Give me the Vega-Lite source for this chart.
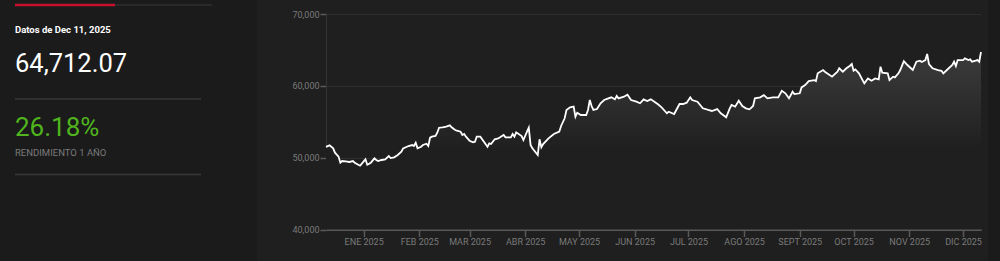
{
  "$schema": "https://vega.github.io/schema/vega-lite/v6.json",
  "background": "#1b1b1b",
  "padding": {"left": 0, "top": 0, "right": 12, "bottom": 0},
  "config": {"font": "Roboto", "view": {"stroke": null}},
  "spacing": 0,
  "bounds": "flush",
  "datasets": {
    "panel": [
      {"elemento": "fecha", "texto": "Datos de Dec 11, 2025"},
      {"elemento": "valor", "texto": "64,712.07"},
      {"elemento": "rendimiento", "texto": "26.18%"},
      {"elemento": "etiqueta", "texto": "RENDIMIENTO 1 AÑO"}
    ],
    "deco": [{"tipo": "linea"}],
    "serie": [
      {"fecha": "2024-12-11", "valor": 51500},
      {"fecha": "2024-12-13", "valor": 51720},
      {"fecha": "2024-12-15", "valor": 51300},
      {"fecha": "2024-12-16", "valor": 50690},
      {"fecha": "2024-12-18", "valor": 50130},
      {"fecha": "2024-12-19", "valor": 49300},
      {"fecha": "2024-12-20", "valor": 49535},
      {"fecha": "2024-12-22", "valor": 49490},
      {"fecha": "2024-12-24", "valor": 49400},
      {"fecha": "2024-12-26", "valor": 49535},
      {"fecha": "2024-12-27", "valor": 49300},
      {"fecha": "2024-12-29", "valor": 49020},
      {"fecha": "2024-12-30", "valor": 48880},
      {"fecha": "2025-01-01", "valor": 49490},
      {"fecha": "2025-01-02", "valor": 49770},
      {"fecha": "2025-01-03", "valor": 49020},
      {"fecha": "2025-01-05", "valor": 49300},
      {"fecha": "2025-01-07", "valor": 49910},
      {"fecha": "2025-01-08", "valor": 49675},
      {"fecha": "2025-01-09", "valor": 49535},
      {"fecha": "2025-01-11", "valor": 49675},
      {"fecha": "2025-01-13", "valor": 49770},
      {"fecha": "2025-01-15", "valor": 50230},
      {"fecha": "2025-01-16", "valor": 49950},
      {"fecha": "2025-01-18", "valor": 50050},
      {"fecha": "2025-01-20", "valor": 50370},
      {"fecha": "2025-01-22", "valor": 50830},
      {"fecha": "2025-01-23", "valor": 51300},
      {"fecha": "2025-01-26", "valor": 51620},
      {"fecha": "2025-01-28", "valor": 51760},
      {"fecha": "2025-01-29", "valor": 51620},
      {"fecha": "2025-01-30", "valor": 52080},
      {"fecha": "2025-01-31", "valor": 51300},
      {"fecha": "2025-02-02", "valor": 51525},
      {"fecha": "2025-02-03", "valor": 51760},
      {"fecha": "2025-02-05", "valor": 51940},
      {"fecha": "2025-02-06", "valor": 51620},
      {"fecha": "2025-02-07", "valor": 52780},
      {"fecha": "2025-02-08", "valor": 52920},
      {"fecha": "2025-02-10", "valor": 53015},
      {"fecha": "2025-02-11", "valor": 53475},
      {"fecha": "2025-02-12", "valor": 54170},
      {"fecha": "2025-02-14", "valor": 54225},
      {"fecha": "2025-02-16", "valor": 54310},
      {"fecha": "2025-02-18", "valor": 54500},
      {"fecha": "2025-02-19", "valor": 54225},
      {"fecha": "2025-02-21", "valor": 53850},
      {"fecha": "2025-02-22", "valor": 53750},
      {"fecha": "2025-02-24", "valor": 53615},
      {"fecha": "2025-02-25", "valor": 53155},
      {"fecha": "2025-02-26", "valor": 53290},
      {"fecha": "2025-02-27", "valor": 52920},
      {"fecha": "2025-03-01", "valor": 52360},
      {"fecha": "2025-03-03", "valor": 52140},
      {"fecha": "2025-03-04", "valor": 52220},
      {"fecha": "2025-03-05", "valor": 52920},
      {"fecha": "2025-03-07", "valor": 52920},
      {"fecha": "2025-03-09", "valor": 52220},
      {"fecha": "2025-03-11", "valor": 51525},
      {"fecha": "2025-03-12", "valor": 52000},
      {"fecha": "2025-03-13", "valor": 51900},
      {"fecha": "2025-03-15", "valor": 52555},
      {"fecha": "2025-03-17", "valor": 52695},
      {"fecha": "2025-03-18", "valor": 52830},
      {"fecha": "2025-03-20", "valor": 53155},
      {"fecha": "2025-03-21", "valor": 52830},
      {"fecha": "2025-03-24", "valor": 52830},
      {"fecha": "2025-03-25", "valor": 53290},
      {"fecha": "2025-03-26", "valor": 52920},
      {"fecha": "2025-03-27", "valor": 53530},
      {"fecha": "2025-03-30", "valor": 53015},
      {"fecha": "2025-03-31", "valor": 52460},
      {"fecha": "2025-04-02", "valor": 53615},
      {"fecha": "2025-04-03", "valor": 54170},
      {"fecha": "2025-04-04", "valor": 51760},
      {"fecha": "2025-04-05", "valor": 51300},
      {"fecha": "2025-04-08", "valor": 50370},
      {"fecha": "2025-04-09", "valor": 52555},
      {"fecha": "2025-04-10", "valor": 51440},
      {"fecha": "2025-04-11", "valor": 51900},
      {"fecha": "2025-04-14", "valor": 52695},
      {"fecha": "2025-04-17", "valor": 53290},
      {"fecha": "2025-04-20", "valor": 53615},
      {"fecha": "2025-04-21", "valor": 54410},
      {"fecha": "2025-04-23", "valor": 55480},
      {"fecha": "2025-04-24", "valor": 56640},
      {"fecha": "2025-04-26", "valor": 57010},
      {"fecha": "2025-04-28", "valor": 57100},
      {"fecha": "2025-04-29", "valor": 55700},
      {"fecha": "2025-04-30", "valor": 56260},
      {"fecha": "2025-05-02", "valor": 55940},
      {"fecha": "2025-05-05", "valor": 55940},
      {"fecha": "2025-05-06", "valor": 56640},
      {"fecha": "2025-05-07", "valor": 58030},
      {"fecha": "2025-05-08", "valor": 57190},
      {"fecha": "2025-05-09", "valor": 56640},
      {"fecha": "2025-05-11", "valor": 56770},
      {"fecha": "2025-05-13", "valor": 57570},
      {"fecha": "2025-05-15", "valor": 58030},
      {"fecha": "2025-05-17", "valor": 58210},
      {"fecha": "2025-05-19", "valor": 58400},
      {"fecha": "2025-05-21", "valor": 58120},
      {"fecha": "2025-05-22", "valor": 58585},
      {"fecha": "2025-05-23", "valor": 58260},
      {"fecha": "2025-05-26", "valor": 58490},
      {"fecha": "2025-05-28", "valor": 58770},
      {"fecha": "2025-05-30", "valor": 58030},
      {"fecha": "2025-06-02", "valor": 57790},
      {"fecha": "2025-06-04", "valor": 57570},
      {"fecha": "2025-06-06", "valor": 58120},
      {"fecha": "2025-06-08", "valor": 57890},
      {"fecha": "2025-06-10", "valor": 58120},
      {"fecha": "2025-06-12", "valor": 57790},
      {"fecha": "2025-06-14", "valor": 57430},
      {"fecha": "2025-06-16", "valor": 57010},
      {"fecha": "2025-06-19", "valor": 56180},
      {"fecha": "2025-06-20", "valor": 56400},
      {"fecha": "2025-06-23", "valor": 56080},
      {"fecha": "2025-06-26", "valor": 57470},
      {"fecha": "2025-06-28", "valor": 57470},
      {"fecha": "2025-06-30", "valor": 57650},
      {"fecha": "2025-07-02", "valor": 58400},
      {"fecha": "2025-07-03", "valor": 58030},
      {"fecha": "2025-07-06", "valor": 57790},
      {"fecha": "2025-07-09", "valor": 56870},
      {"fecha": "2025-07-12", "valor": 56640},
      {"fecha": "2025-07-14", "valor": 56500},
      {"fecha": "2025-07-17", "valor": 56770},
      {"fecha": "2025-07-19", "valor": 56180},
      {"fecha": "2025-07-22", "valor": 55620},
      {"fecha": "2025-07-24", "valor": 56870},
      {"fecha": "2025-07-25", "valor": 57330},
      {"fecha": "2025-07-27", "valor": 57100},
      {"fecha": "2025-07-29", "valor": 57930},
      {"fecha": "2025-07-31", "valor": 57190},
      {"fecha": "2025-08-02", "valor": 56870},
      {"fecha": "2025-08-04", "valor": 56730},
      {"fecha": "2025-08-06", "valor": 57190},
      {"fecha": "2025-08-07", "valor": 58260},
      {"fecha": "2025-08-10", "valor": 58400},
      {"fecha": "2025-08-12", "valor": 58720},
      {"fecha": "2025-08-14", "valor": 58260},
      {"fecha": "2025-08-17", "valor": 58400},
      {"fecha": "2025-08-20", "valor": 58400},
      {"fecha": "2025-08-22", "valor": 59320},
      {"fecha": "2025-08-24", "valor": 58960},
      {"fecha": "2025-08-26", "valor": 58260},
      {"fecha": "2025-08-28", "valor": 59180},
      {"fecha": "2025-08-29", "valor": 58860},
      {"fecha": "2025-09-01", "valor": 58960},
      {"fecha": "2025-09-02", "valor": 59780},
      {"fecha": "2025-09-04", "valor": 60100},
      {"fecha": "2025-09-06", "valor": 60660},
      {"fecha": "2025-09-09", "valor": 60800},
      {"fecha": "2025-09-10", "valor": 60660},
      {"fecha": "2025-09-11", "valor": 61740},
      {"fecha": "2025-09-14", "valor": 62200},
      {"fecha": "2025-09-15", "valor": 61970},
      {"fecha": "2025-09-19", "valor": 61270},
      {"fecha": "2025-09-22", "valor": 61970},
      {"fecha": "2025-09-23", "valor": 62440},
      {"fecha": "2025-09-25", "valor": 61970},
      {"fecha": "2025-09-27", "valor": 62440},
      {"fecha": "2025-09-29", "valor": 62800},
      {"fecha": "2025-09-30", "valor": 63040},
      {"fecha": "2025-10-01", "valor": 62100},
      {"fecha": "2025-10-02", "valor": 62290},
      {"fecha": "2025-10-04", "valor": 61740},
      {"fecha": "2025-10-06", "valor": 60800},
      {"fecha": "2025-10-07", "valor": 60340},
      {"fecha": "2025-10-09", "valor": 61030},
      {"fecha": "2025-10-11", "valor": 60710},
      {"fecha": "2025-10-13", "valor": 61030},
      {"fecha": "2025-10-15", "valor": 60890},
      {"fecha": "2025-10-16", "valor": 62670},
      {"fecha": "2025-10-17", "valor": 61830},
      {"fecha": "2025-10-20", "valor": 61740},
      {"fecha": "2025-10-21", "valor": 60800},
      {"fecha": "2025-10-23", "valor": 61270},
      {"fecha": "2025-10-24", "valor": 61180},
      {"fecha": "2025-10-26", "valor": 61740},
      {"fecha": "2025-10-27", "valor": 62200},
      {"fecha": "2025-10-29", "valor": 63450},
      {"fecha": "2025-10-31", "valor": 62900},
      {"fecha": "2025-11-03", "valor": 62200},
      {"fecha": "2025-11-05", "valor": 63360},
      {"fecha": "2025-11-07", "valor": 63500},
      {"fecha": "2025-11-08", "valor": 63320},
      {"fecha": "2025-11-10", "valor": 63590},
      {"fecha": "2025-11-11", "valor": 64430},
      {"fecha": "2025-11-12", "valor": 63040},
      {"fecha": "2025-11-14", "valor": 62440},
      {"fecha": "2025-11-17", "valor": 62200},
      {"fecha": "2025-11-19", "valor": 62100},
      {"fecha": "2025-11-20", "valor": 61740},
      {"fecha": "2025-11-22", "valor": 62200},
      {"fecha": "2025-11-25", "valor": 62900},
      {"fecha": "2025-11-26", "valor": 63360},
      {"fecha": "2025-11-27", "valor": 62760},
      {"fecha": "2025-11-28", "valor": 63590},
      {"fecha": "2025-12-01", "valor": 63590},
      {"fecha": "2025-12-02", "valor": 63820},
      {"fecha": "2025-12-04", "valor": 63590},
      {"fecha": "2025-12-05", "valor": 63680},
      {"fecha": "2025-12-06", "valor": 63360},
      {"fecha": "2025-12-08", "valor": 63500},
      {"fecha": "2025-12-09", "valor": 63590},
      {"fecha": "2025-12-10", "valor": 63360},
      {"fecha": "2025-12-11", "valor": 64712.07}
    ]
  },
  "hconcat": [
    {
      "width": 257,
      "height": 261,
      "view": {"fill": "#1b1b1b", "stroke": null},
      "data": {"name": "panel"},
      "layer": [
        {
          "data": {"name": "deco"},
          "mark": {"type": "rule", "color": "#2a2a2a", "strokeWidth": 2},
          "encoding": {
            "x": {"datum": 15, "type": "quantitative", "scale": {"domain": [0, 257], "nice": false, "zero": false}, "axis": null},
            "x2": {"datum": 212},
            "y": {"datum": 5, "type": "quantitative", "scale": {"domain": [261, 0], "nice": false, "zero": false}, "axis": null}
          }
        },
        {
          "data": {"name": "deco"},
          "mark": {"type": "rule", "color": "#c8102e", "strokeWidth": 2.5},
          "encoding": {
            "x": {"datum": 15, "type": "quantitative"},
            "x2": {"datum": 115},
            "y": {"datum": 5, "type": "quantitative"}
          }
        },
        {
          "data": {"name": "deco"},
          "mark": {"type": "rule", "color": "#383838", "strokeWidth": 1.5},
          "encoding": {
            "x": {"datum": 15, "type": "quantitative"},
            "x2": {"datum": 201},
            "y": {"datum": 99, "type": "quantitative"}
          }
        },
        {
          "data": {"name": "deco"},
          "mark": {"type": "rule", "color": "#383838", "strokeWidth": 1.5},
          "encoding": {
            "x": {"datum": 15, "type": "quantitative"},
            "x2": {"datum": 201},
            "y": {"datum": 174.5, "type": "quantitative"}
          }
        },
        {
          "transform": [{"filter": "datum.elemento === 'fecha'"}],
          "mark": {"type": "text", "align": "left", "baseline": "alphabetic", "fontSize": 9.5, "fontWeight": "bold", "color": "#ffffff"},
          "encoding": {
            "x": {"datum": 15, "type": "quantitative"},
            "y": {"datum": 32.5, "type": "quantitative"},
            "text": {"field": "texto"}
          }
        },
        {
          "transform": [{"filter": "datum.elemento === 'valor'"}],
          "mark": {"type": "text", "align": "left", "baseline": "alphabetic", "fontSize": 25.5, "color": "#ffffff"},
          "encoding": {
            "x": {"datum": 15, "type": "quantitative"},
            "y": {"datum": 71.5, "type": "quantitative"},
            "text": {"field": "texto"}
          }
        },
        {
          "transform": [{"filter": "datum.elemento === 'rendimiento'"}],
          "mark": {"type": "text", "align": "left", "baseline": "alphabetic", "fontSize": 26, "color": "#50b41e"},
          "encoding": {
            "x": {"datum": 15, "type": "quantitative"},
            "y": {"datum": 136, "type": "quantitative"},
            "text": {"field": "texto"}
          }
        },
        {
          "transform": [{"filter": "datum.elemento === 'etiqueta'"}],
          "mark": {"type": "text", "align": "left", "baseline": "alphabetic", "fontSize": 9.5, "color": "#7a7a7a"},
          "encoding": {
            "x": {"datum": 15, "type": "quantitative"},
            "y": {"datum": 156, "type": "quantitative"},
            "text": {"field": "texto"}
          }
        }
      ]
    },
    {
      "width": 731,
      "height": 261,
      "view": {"fill": "#1f1f1f", "stroke": null},
      "data": {"name": "serie"},
      "encoding": {
        "x": {
          "field": "fecha",
          "type": "temporal",
          "scale": {
            "type": "utc",
            "domain": [
              {"year": 2024, "month": 12, "date": 11, "utc": true},
              {"year": 2025, "month": 12, "date": 11, "utc": true}
            ],
            "range": [69, 724],
            "nice": false
          },
          "axis": {
            "orient": "bottom",
            "offset": -31.5,
            "title": null,
            "grid": false,
            "values": [
              {"year": 2025, "month": 1, "date": 1, "utc": true},
              {"year": 2025, "month": 2, "date": 1, "utc": true},
              {"year": 2025, "month": 3, "date": 1, "utc": true},
              {"year": 2025, "month": 4, "date": 1, "utc": true},
              {"year": 2025, "month": 5, "date": 1, "utc": true},
              {"year": 2025, "month": 6, "date": 1, "utc": true},
              {"year": 2025, "month": 7, "date": 1, "utc": true},
              {"year": 2025, "month": 8, "date": 1, "utc": true},
              {"year": 2025, "month": 9, "date": 1, "utc": true},
              {"year": 2025, "month": 10, "date": 1, "utc": true},
              {"year": 2025, "month": 11, "date": 1, "utc": true},
              {"year": 2025, "month": 12, "date": 1, "utc": true}
            ],
            "labelExpr": "['ENE','FEB','MAR','ABR','MAY','JUN','JUL','AGO','SEPT','OCT','NOV','DIC'][utcmonth(datum.value)] + ' ' + utcyear(datum.value)",
            "domainColor": "#595959",
            "domainWidth": 2,
            "tickColor": "#595959",
            "tickWidth": 1.5,
            "tickSize": 7,
            "labelPadding": 1,
            "labelColor": "#7a7a7a",
            "labelFontSize": 9,
            "labelFont": "Roboto",
            "labelOverlap": false,
            "labelFlush": false
          }
        }
      },
      "layer": [
        {
          "mark": {
            "type": "area",
            "color": {
              "x1": 0, "y1": 0, "x2": 0, "y2": 1,
              "gradient": "linear",
              "stops": [
                {"offset": 0, "color": "#3c3c3c"},
                {"offset": 0.55, "color": "#1f1f1f"},
                {"offset": 1, "color": "#1f1f1f"}
              ]
            }
          },
          "encoding": {
            "y": {
              "field": "valor",
              "type": "quantitative",
              "scale": {"domain": [40000, 70000], "range": [229.5, 14], "nice": false, "zero": false},
              "axis": {
                "orient": "left",
                "offset": -69,
                "title": null,
                "values": [40000, 50000, 60000, 70000],
                "format": ",.0f",
                "grid": true,
                "gridColor": "#2e2e2e",
                "gridWidth": 1,
                "domainColor": "#343434",
                "domainWidth": 1,
                "tickColor": "#595959",
                "tickSize": 6,
                "tickWidth": 1.5,
                "labelPadding": 1,
                "labelColor": "#7a7a7a",
                "labelFontSize": 9,
                "labelFont": "Roboto"
              }
            },
            "y2": {"datum": 40000}
          }
        },
        {
          "mark": {"type": "line", "color": "#ffffff", "strokeWidth": 1.8},
          "encoding": {
            "y": {"field": "valor", "type": "quantitative"}
          }
        },
        {
          "data": {"name": "deco"},
          "mark": {"type": "rule", "color": "#353535", "strokeWidth": 1.2},
          "encoding": {
            "x": {"datum": {"year": 2024, "month": 11, "date": 17, "utc": true}, "type": "temporal"},
            "x2": {"datum": {"year": 2025, "month": 12, "date": 15, "utc": true}},
            "y": {"datum": 71250, "type": "quantitative"}
          }
        },
        {
          "data": {"name": "deco"},
          "mark": {"type": "rule", "color": "#c8102e", "strokeWidth": 2.2},
          "encoding": {
            "x": {"datum": {"year": 2025, "month": 1, "date": 12, "utc": true}, "type": "temporal"},
            "x2": {"datum": {"year": 2025, "month": 1, "date": 28, "utc": true}},
            "y": {"datum": 71250, "type": "quantitative"}
          }
        }
      ]
    }
  ]
}
